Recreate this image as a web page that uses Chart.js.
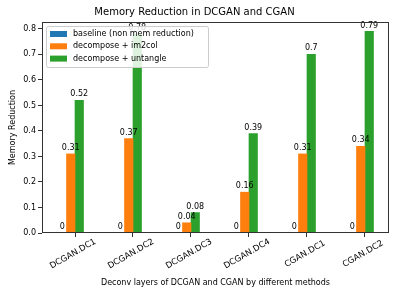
<!DOCTYPE html>
<html>
<head>
<meta charset="utf-8">
<script src="https://cdn.jsdelivr.net/npm/chart.js@4/dist/chart.umd.min.js"></script>
<style>
  html, body { margin: 0; padding: 0; background: #fff; }
  #wrap { width: 399px; height: 299px; }
</style>
</head>
<body>
<div id="wrap"><canvas id="memChart" width="399" height="299"></canvas></div>
<script>
const layers = ["DCGAN.DC1", "DCGAN.DC2", "DCGAN.DC3", "DCGAN.DC4", "CGAN.DC1", "CGAN.DC2"];
const baseline = [0, 0, 0, 0, 0, 0];
const im2col = [0.31, 0.37, 0.04, 0.16, 0.31, 0.34];
const untangle = [0.52, 0.78, 0.08, 0.39, 0.7, 0.79];
const seriesNames = ["baseline (non mem reduction)", "decompose + im2col", "decompose + untangle"];
const seriesColors = ["#1f77b4", "#ff7f0e", "#2ca02c"];
const yTicks = [0, 0.1, 0.2, 0.3, 0.4, 0.5, 0.6, 0.7, 0.8];

const FONT = "'DejaVu Sans', sans-serif";

function points(vals) {
  return vals.map((v, i) => ({ x: i, y: v }));
}

// value labels above each bar
const valueLabels = {
  id: "valueLabels",
  afterDatasetsDraw(chart) {
    const ctx = chart.ctx;
    ctx.save();
    ctx.font = "8px " + FONT;
    ctx.fillStyle = "#000";
    ctx.textAlign = "center";
    ctx.textBaseline = "bottom";
    for (let d = 0; d < 3; d++) {
      const meta = chart.getDatasetMeta(d);
      meta.data.forEach((bar, i) => {
        const v = chart.data.datasets[d].data[i].y;
        ctx.fillText(String(v), bar.x, bar.y - 2);
      });
    }
    ctx.restore();
  }
};

// rotated category labels, frame and legend box (matplotlib look)
const extras = {
  id: "extras",
  afterDraw(chart) {
    const ctx = chart.ctx;
    const a = chart.chartArea;
    const xs = chart.scales.x;
    ctx.save();
    // frame
    ctx.strokeStyle = "#333";
    ctx.lineWidth = 1;
    ctx.strokeRect(a.left + 0.5, a.top + 0.5, a.right - a.left - 1, a.bottom - a.top - 1);

    // x tick labels
    ctx.font = "8.5px " + FONT;
    ctx.fillStyle = "#000";
    ctx.textAlign = "center";
    ctx.textBaseline = "middle";
    layers.forEach((lab, i) => {
      const px = xs.getPixelForValue(i);
      ctx.save();
      ctx.translate(px - 2, a.bottom + 21);
      ctx.rotate(-30 * Math.PI / 180);
      ctx.fillText(lab, 0, 0);
      ctx.restore();
    });

    // legend
    const lx = a.left + 4, ly = a.top + 4, lw = 162, lh = 41;
    ctx.font = "8px " + FONT;
    ctx.fillStyle = "rgba(255,255,255,0.85)";
    ctx.strokeStyle = "#ccc";
    ctx.beginPath();
    ctx.roundRect(lx + 0.5, ly + 0.5, lw, lh, 2);
    ctx.fill();
    ctx.stroke();
    ctx.textAlign = "left";
    seriesNames.forEach((name, i) => {
      const ry = ly + 8 + i * 12.3;
      ctx.fillStyle = seriesColors[i];
      ctx.fillRect(lx + 4, ry - 3, 17, 6);
      ctx.fillStyle = "#000";
      ctx.fillText(name, lx + 27, ry);
    });
    ctx.restore();
  }
};

new Chart(document.getElementById("memChart").getContext("2d"), {
  type: "bar",
  data: {
    datasets: [
      { label: seriesNames[0], data: points(baseline), backgroundColor: seriesColors[0] },
      { label: seriesNames[1], data: points(im2col), backgroundColor: seriesColors[1] },
      { label: seriesNames[2], data: points(untangle), backgroundColor: seriesColors[2] },
      // empty slot so the tick sits between orange and green bars
      { label: "", data: points(baseline), backgroundColor: "rgba(0,0,0,0)" }
    ]
  },
  options: {
    responsive: false,
    animation: false,
    layout: { padding: { left: 0, right: 10, top: 0, bottom: 0 } },
    datasets: { bar: { barThickness: 8.5 } },
    plugins: {
      legend: { display: false },
      tooltip: { enabled: false },
      title: {
        display: true,
        text: "Memory Reduction in DCGAN and CGAN",
        color: "#000",
        font: { family: FONT, size: 10, weight: "normal" },
        padding: { top: 6, bottom: 4 }
      }
    },
    scales: {
      x: {
        type: "linear",
        offset: false,
        min: -0.569,
        max: 5.414,
        afterBuildTicks(scale) {
          scale.ticks = layers.map((_, i) => ({ value: i }));
        },
        afterFit(scale) { scale.height = 66; },
        grid: { display: true, offset: false, drawOnChartArea: false, drawTicks: true, tickLength: 4, color: "#333" },
        border: { display: false },
        ticks: { display: false },
        title: {
          display: true,
          text: "Deconv layers of DCGAN and CGAN by different methods",
          color: "#000",
          font: { family: FONT, size: 8 },
          padding: { top: 0, bottom: 11 }
        }
      },
      y: {
        min: 0,
        max: 0.827,
        afterBuildTicks(scale) {
          scale.ticks = yTicks.map(v => ({ value: v }));
        },
        afterFit(scale) { scale.width = 42; },
        grid: { display: true, drawOnChartArea: false, drawTicks: true, tickLength: 4, color: "#333" },
        border: { display: false },
        ticks: {
          color: "#000",
          font: { family: FONT, size: 8 },
          padding: 2,
          callback: v => v.toFixed(1)
        },
        title: {
          display: true,
          text: "Memory Reduction",
          color: "#000",
          font: { family: FONT, size: 8 },
          padding: { top: 8, bottom: 0 }
        }
      }
    }
  },
  plugins: [valueLabels, extras]
});
</script>
</body>
</html>
